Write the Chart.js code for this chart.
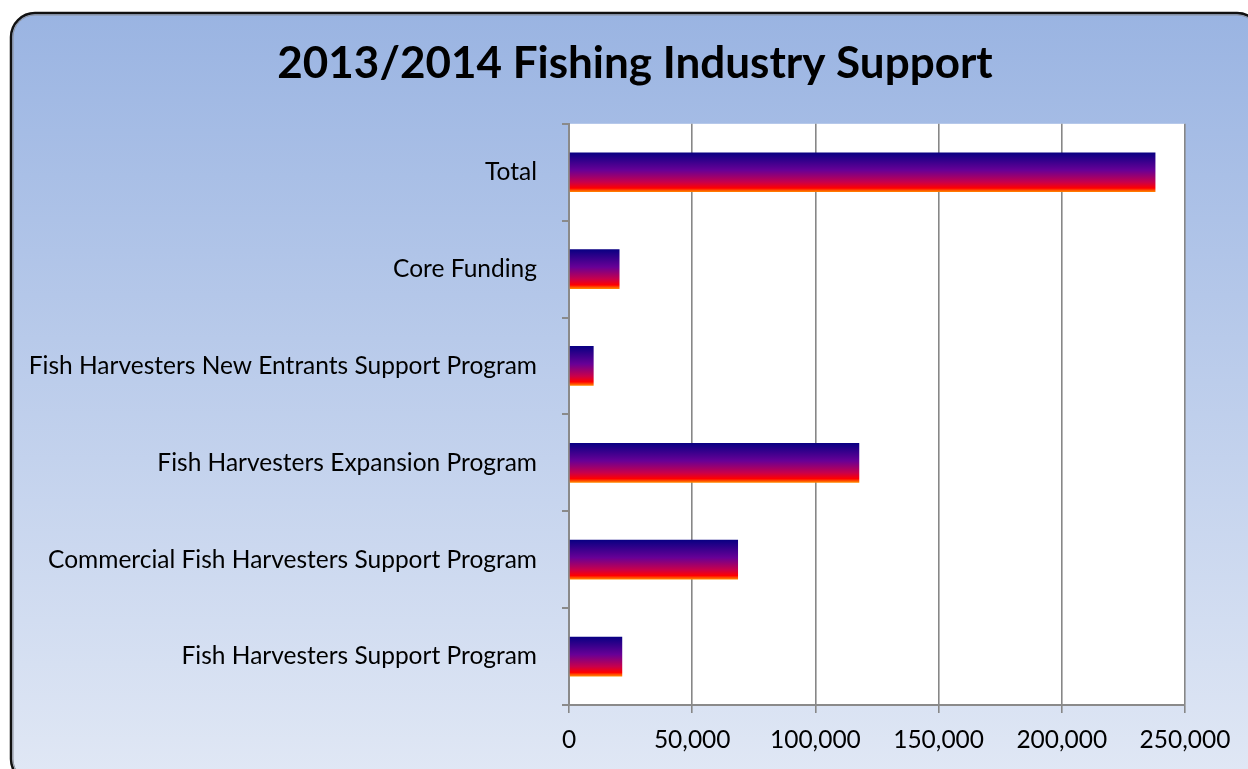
<!DOCTYPE html>
<html>
<head>
<meta charset="utf-8">
<script src="https://cdn.jsdelivr.net/npm/chart.js@4/dist/chart.umd.min.js"></script>
<style>
  html, body { margin: 0; padding: 0; background: #ffffff; }
  #wrap { width: 1248px; height: 769px; position: relative; }
</style>
</head>
<body>
<div id="wrap"><canvas id="c" width="1248" height="769"></canvas></div>
<script>
const chartTitle = "2013/2014 Fishing Industry Support";
const categories = [
  "Total",
  "Core Funding",
  "Fish Harvesters New Entrants Support Program",
  "Fish Harvesters Expansion Program",
  "Commercial Fish Harvesters Support Program",
  "Fish Harvesters Support Program"
];
const amounts = [238000, 20500, 10000, 117800, 68600, 21600];
const axisMax = 250000;
const axisStep = 50000;

const FONT = "Lato, 'Noto Sans', sans-serif";

const framePlugin = {
  id: 'frame',
  afterLayout(chart) {
    const t = chart.titleBlock;
    if (t) { t.left = 22; t.right = chart.width; t.width = chart.width - 22; }
  },
  beforeDraw(chart) {
    const ctx = chart.ctx;
    const W = chart.width, H = chart.height;
    ctx.save();
    ctx.fillStyle = '#ffffff';
    ctx.fillRect(0, 0, W, H);
    const x = 11, y = 13, w = 1250, h = 770, r = 24;
    const g = ctx.createLinearGradient(0, y, 0, y + h);
    g.addColorStop(0, '#9ab4e2');
    g.addColorStop(1, '#e1e8f5');
    ctx.beginPath();
    ctx.roundRect(x, y, w, h, r);
    ctx.fillStyle = g;
    ctx.fill();
    ctx.lineWidth = 2.5;
    ctx.strokeStyle = '#111111';
    ctx.stroke();
    ctx.beginPath();
    ctx.roundRect(x + 2, y + 2, w - 4, h - 4, r - 2);
    ctx.lineWidth = 1;
    ctx.strokeStyle = '#8a8f9a';
    ctx.stroke();
    const a = chart.chartArea;
    ctx.fillStyle = '#ffffff';
    ctx.fillRect(a.left, a.top, a.right - a.left, a.bottom - a.top);
    ctx.restore();
  }
};

function barGradient(context) {
  const chart = context.chart;
  const s = chart.scales && chart.scales.y;
  if (!s || s.top === undefined || context.dataIndex === undefined) return '#000080';
  const c = s.getPixelForValue(context.dataIndex);
  const band = (s.bottom - s.top) / categories.length;
  const h = band * 0.41;
  const g = chart.ctx.createLinearGradient(0, c - h / 2, 0, c + h / 2);
  g.addColorStop(0.00, '#080082');
  g.addColorStop(0.45, '#680096');
  g.addColorStop(0.75, '#c8004c');
  g.addColorStop(0.90, '#ff0000');
  g.addColorStop(0.96, '#ff5a00');
  g.addColorStop(1.00, '#ff8a00');
  return g;
}

new Chart(document.getElementById('c'), {
  type: 'bar',
  data: {
    labels: categories,
    datasets: [{
      data: amounts,
      backgroundColor: barGradient,
      borderWidth: 0,
      categoryPercentage: 1.0,
      barPercentage: 0.41
    }]
  },
  options: {
    indexAxis: 'y',
    responsive: false,
    animation: false,
    devicePixelRatio: 1,
    layout: { padding: { left: 0, right: 63, top: 0, bottom: 0 } },
    plugins: {
      legend: { display: false },
      tooltip: { enabled: false },
      title: {
        display: true,
        text: chartTitle,
        color: '#000000',
        font: { family: FONT, size: 44, weight: 'bold' },
        padding: { top: 37, bottom: 34 }
      }
    },
    scales: {
      x: {
        min: 0,
        max: axisMax,
        ticks: {
          stepSize: axisStep,
          color: '#000000',
          font: { family: FONT, size: 24.5 },
          padding: 12,
          maxRotation: 0,
          callback: (v) => v.toLocaleString('en-US')
        },
        grid: {
          color: '#878787',
          lineWidth: 1.6,
          drawOnChartArea: true,
          drawTicks: true,
          tickLength: 8
        },
        border: { display: true, color: '#8a8a8a', width: 2 },
        afterFit(scale) { scale.height = 64; }
      },
      y: {
        ticks: {
          color: '#000000',
          font: { family: FONT, size: 24.5 },
          padding: 25
        },
        grid: {
          offset: true,
          color: '#8a8a8a',
          lineWidth: 2,
          drawOnChartArea: false,
          drawTicks: true,
          tickLength: 7
        },
        border: { display: true, color: '#8a8a8a', width: 2 },
        afterFit(scale) { scale.width = 569; }
      }
    }
  },
  plugins: [framePlugin]
});
</script>
</body>
</html>
